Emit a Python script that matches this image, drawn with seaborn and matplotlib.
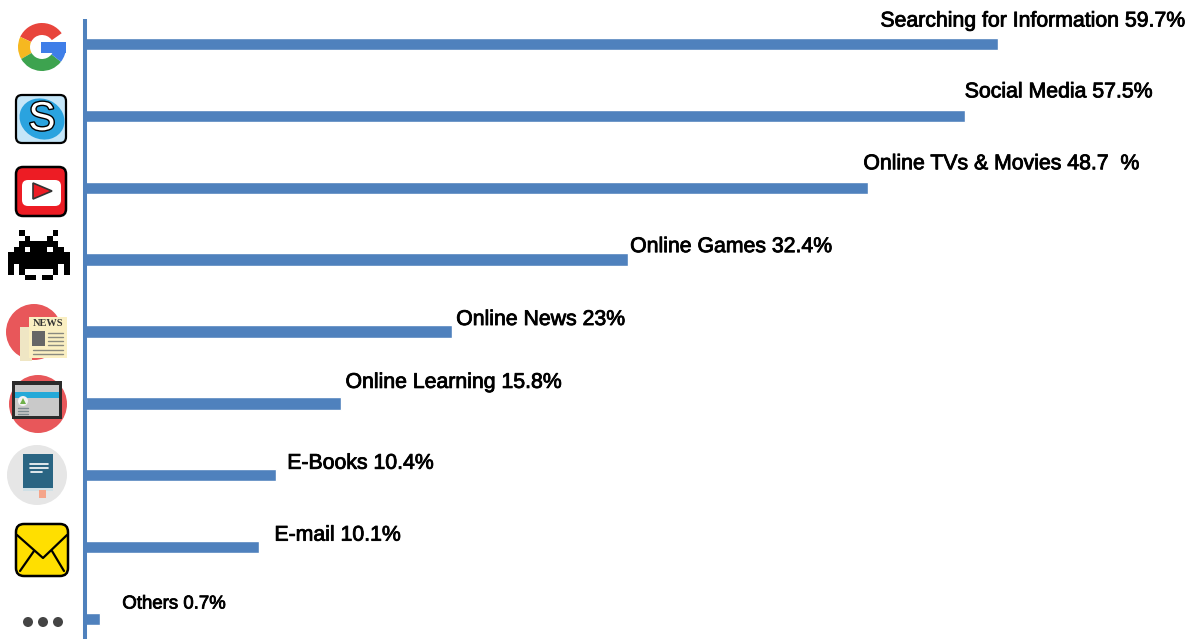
import matplotlib
matplotlib.use('Agg')
import matplotlib.pyplot as plt
import matplotlib.patheffects as pe
from matplotlib.patches import Circle, Ellipse, FancyBboxPatch, Polygon, Rectangle, Wedge
import seaborn as sns

# chart data
activities = ['Searching for Information', 'Social Media', 'Online TVs & Movies', 'Online Games',
              'Online News', 'Online Learning', 'E-Books', 'E-mail', 'Others']
printed_share = ['59.7%', '57.5%', '48.7  %', '32.4%', '23%', '15.8%', '10.4%', '10.1%', '0.7%']
# drawn lengths are not quite what the labels say, so they are read off the bars
bar_length = [59.7, 57.5, 51.2, 35.5, 24.0, 16.7, 12.5, 11.4, 1.0]

# label offsets from bar end, in pixels
label_dx = [-118, 0, -5, 2, 4, 5, 11, 15, 22]
label_dy = [23, 24, 24, 13, 12, 21, 12, 12, 15]

W, H = 1192, 639
BLUE = '#4F81BD'
INK = 'black'

sns.set_style('white')
plt.rcParams['font.family'] = ['Liberation Sans', 'DejaVu Sans']

fig = plt.figure(figsize=(W / 100, H / 100), dpi=100)
ax = fig.add_axes([85 / W, 0, (W - 85) / W, (H - 19) / H])

sns.barplot(x=bar_length, y=activities, orient='h', color=BLUE, saturation=1, width=0.172, ax=ax)
ax.set_xlim(0, (W - 85) / 15.3)
ax.set_ylim(8.278, -0.348)
ax.set_xticks([])
ax.set_yticks([])
sns.despine(ax=ax, top=True, right=True, bottom=True)
ax.spines['left'].set_color(BLUE)
ax.spines['left'].set_linewidth(2.9)
ax.spines['left'].set_capstyle('butt')

for i, (name, share) in enumerate(zip(activities, printed_share)):
    size = 13.4 if name == 'Others' else 15.3
    ax.annotate(f'{name} {share}', xy=(bar_length[i], i), xytext=(label_dx[i], label_dy[i]),
                textcoords='offset pixels', fontsize=size, color=INK, va='center', ha='left',
                annotation_clip=False,
                path_effects=[pe.withStroke(linewidth=0.6, foreground=INK)])

# icons, on a layer that works in picture pixels
icons = fig.add_axes([0, 0, 1, 1])
icons.set_xlim(0, W)
icons.set_ylim(H, 0)
icons.axis('off')
icons.patch.set_alpha(0)


def rounded(x0, y0, x1, y1, r, face, edge='none', lw=0):
    icons.add_patch(FancyBboxPatch((x0 + r, y0 + r), x1 - x0 - 2 * r, y1 - y0 - 2 * r,
                                   boxstyle=f'round,pad={r},rounding_size={r}',
                                   fc=face, ec=edge, lw=lw))


def box(x0, y0, x1, y1, face):
    icons.add_patch(Rectangle((x0, y0), x1 - x0, y1 - y0, fc=face, ec='none'))


def seg(xs, ys, color=INK, lw=1.6):
    icons.plot(xs, ys, color=color, lw=lw, solid_capstyle='round')


# google
for t1, t2, col in [(205, 325, '#E8453C'), (150, 205, '#F6B820'), (38, 150, '#3DA34F'), (0, 38, '#3F7EE8')]:
    icons.add_patch(Wedge((42, 47), 24, t1, t2, width=12, fc=col, ec='none'))
box(41, 42, 66, 53, '#3F7EE8')

# skype
rounded(16, 95, 66, 143, 6, '#C5E6F8', INK, 1.6)
icons.add_patch(Ellipse((42, 119), 46, 40, angle=25, fc='#2AA3DF', ec='none'))
icons.text(42, 119, 'S', fontsize=29, color='white', ha='center', va='center',
           path_effects=[pe.withStroke(linewidth=2, foreground=INK)])

# youtube
rounded(16, 167, 66, 216, 7, '#ED1C24', INK, 1.8)
rounded(22, 180, 61, 206, 6, 'white')
icons.add_patch(Polygon([(33, 183), (52, 191), (33, 199)], fc='#ED1C24', ec='#333333', lw=1.2))

# space invader
invader = ['..X.....X..',
           '...X...X...',
           '..XXXXXXX..',
           '.XX.XXX.XX.',
           'XXXXXXXXXXX',
           'XXXXXXXXXXX',
           'X.XXXXXXX.X',
           'X.X.....X.X',
           '...XX.XX...']
for r, row in enumerate(invader):
    for c, ch in enumerate(row):
        if ch == 'X':
            box(8 + c * 5.6, 230 + r * 5.6, 8 + (c + 1) * 5.6, 230 + (r + 1) * 5.6, INK)

# news
icons.add_patch(Circle((34, 332), 28, fc='#E8575A', ec='none'))
box(20, 327, 32, 361, '#EFE6C4')
box(29, 317, 67, 358, '#FAEFC2')
icons.text(48, 324, 'NEWS', fontsize=7.5, family='Liberation Serif', fontweight='bold', color='#333333',
           ha='center', va='center')
box(32, 331, 45, 346, '#666666')
for y in (333, 337, 341, 345):
    seg([48, 63], [y, y], '#8A8A80', 1)
for y in (350, 354):
    seg([33, 63], [y, y], '#8A8A80', 1)

# tablet
icons.add_patch(Circle((38, 404), 29, fc='#E8575A', ec='none'))
box(12, 381, 62, 419, '#2B2B2B')
box(15, 385, 59, 416, '#C9C9C9')
box(15, 392, 59, 398, '#24A9D8')
icons.add_patch(Circle((23, 401), 5, fc='#F3F3F3', ec='none'))
icons.add_patch(Polygon([(20, 404), (23, 398), (26, 404)], fc='#6FB04A', ec='none'))
for y in (408, 411, 414):
    seg([18, 28], [y, y], '#7D8A90', 1)

# book
icons.add_patch(Circle((37, 475), 30, fc='#E6E6E6', ec='none'))
box(23, 454, 53, 488, '#2A6583')
box(23, 488, 53, 491, '#CFE0E6')
box(39, 490, 46, 498, '#F5A58A')
seg([30, 48], [464, 464], 'white', 1.2)
seg([30, 48], [468, 468], 'white', 1.2)
seg([31, 42], [472, 472], 'white', 1.2)

# e-mail
rounded(16, 524, 68, 576, 8, '#FFDF00', INK, 1.8)
seg([17, 43, 67], [535, 558, 535])
seg([20, 34], [571, 551])
seg([64, 52], [571, 551])

# others
for x in (28, 43, 58):
    icons.add_patch(Circle((x, 622), 5, fc='#444444', ec='none'))

fig.savefig('out.png', dpi=100)
